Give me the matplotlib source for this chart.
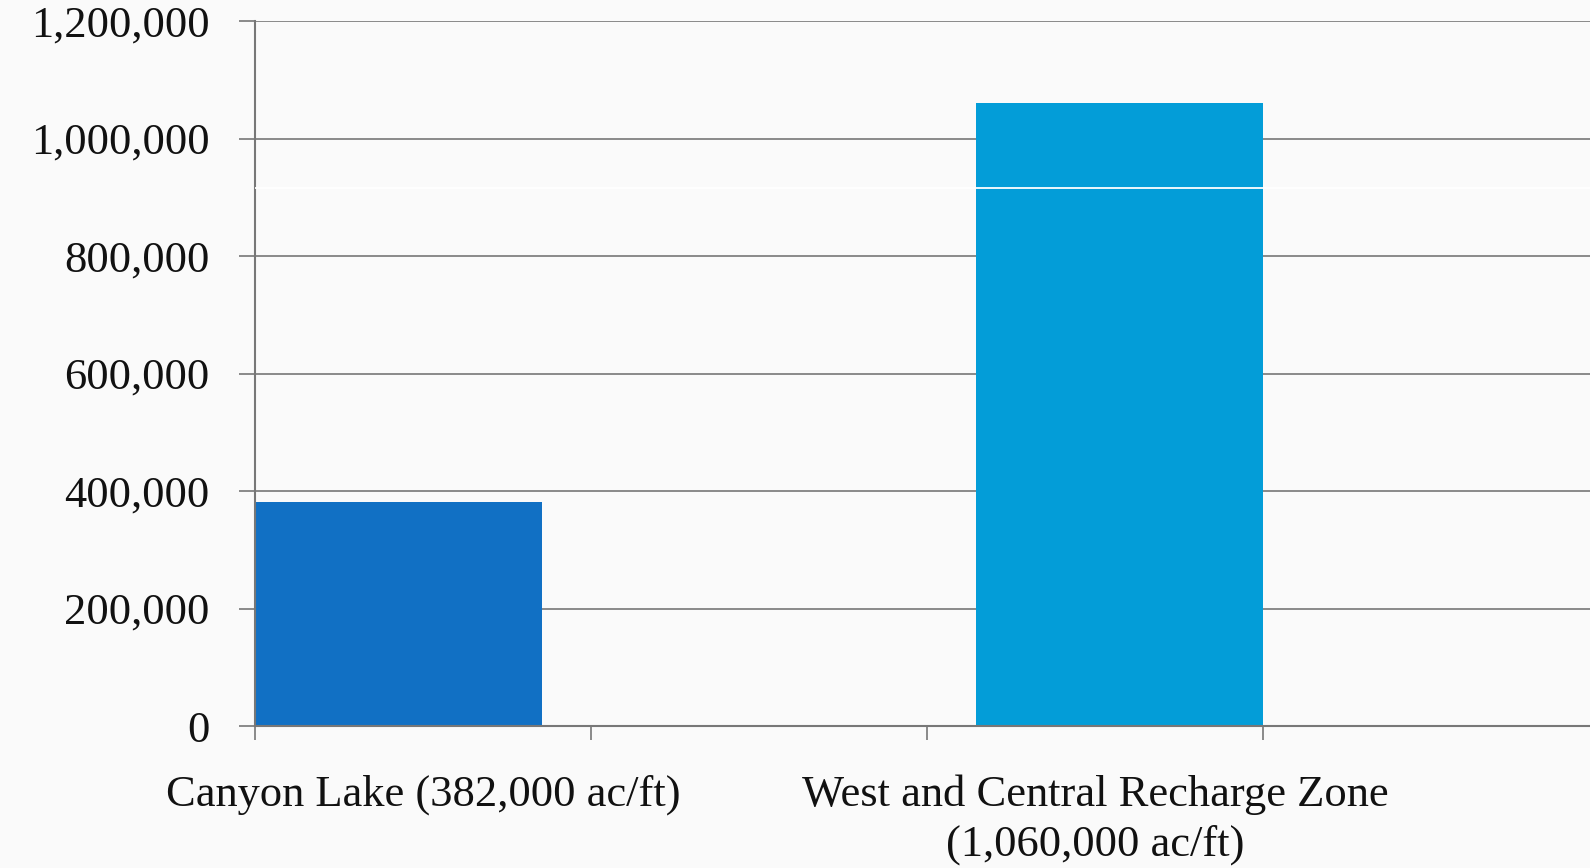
import matplotlib
matplotlib.use("Agg")
import matplotlib.pyplot as plt
from matplotlib.ticker import FuncFormatter, FixedLocator

# ---- data ----
categories = ["Canyon Lake (382,000 ac/ft)",
              "West and Central Recharge Zone\n(1,060,000 ac/ft)"]
lower_values = [382000, 915000]
upper_values = [0, 145000]
bar_colors = ["#1170C4", "#039DD8"]
y_ticks = [0, 200000, 400000, 600000, 800000, 1000000, 1200000]

# ---- layout ----
W, H, DPI = 1590, 868, 100
fig = plt.figure(figsize=(W / DPI, H / DPI), dpi=DPI)
bg = "#fafafa"
fig.patch.set_facecolor(bg)
ax = fig.add_axes([255 / W, 1 - 726 / H, 1 - 255 / W, (726 - 21) / H])
ax.set_facecolor(bg)

font = ["Liberation Serif", "DejaVu Serif"]
fs = 32
grey = "#777777"

bar_width = 0.855
bar_lefts = [0.0, 3.0 - bar_width]
centers = [l + bar_width / 2 for l in bar_lefts]

ax.bar(centers, lower_values, width=bar_width, color=bar_colors, zorder=2)
ax.bar(centers, upper_values, bottom=lower_values, width=bar_width,
       color=bar_colors, zorder=2)
# white separator between stacked segments
for c, lo, up in zip(centers, lower_values, upper_values):
    if up > 0:
        ax.axhline(lo, color="white", lw=1.3, zorder=4)

ax.set_xlim(0, (W - 255) / 336)
ax.set_ylim(0, 1200000)
ax.set_yticks(y_ticks)
ax.yaxis.set_major_formatter(FuncFormatter(lambda v, p: f"{int(v):,}"))
ax.yaxis.grid(True, color=grey, lw=1.2, zorder=1)
ax.set_axisbelow(True)

ax.xaxis.set_major_locator(FixedLocator([0, 1, 2, 3]))
ax.xaxis.set_minor_locator(FixedLocator([0.5, 2.5]))
ax.set_xticklabels([], minor=False)
ax.set_xticklabels(categories, minor=True)
ax.tick_params(axis="x", which="major", length=10, width=1.2, color=grey)
ax.tick_params(axis="x", which="minor", length=0, pad=35)
ax.tick_params(axis="y", length=11.5, width=1.2, color=grey, pad=21)

for lab in ax.get_yticklabels() + ax.get_xticklabels(minor=True):
    lab.set_fontfamily(font)
    lab.set_fontsize(fs)
    lab.set_color("#111111")
for lab in ax.get_xticklabels(minor=True):
    lab.set_linespacing(1.3)

for s in ["top", "right"]:
    ax.spines[s].set_visible(False)
for s in ["left", "bottom"]:
    ax.spines[s].set_color(grey)
    ax.spines[s].set_linewidth(1.5)

fig.savefig("out.png", dpi=DPI, facecolor=bg)
